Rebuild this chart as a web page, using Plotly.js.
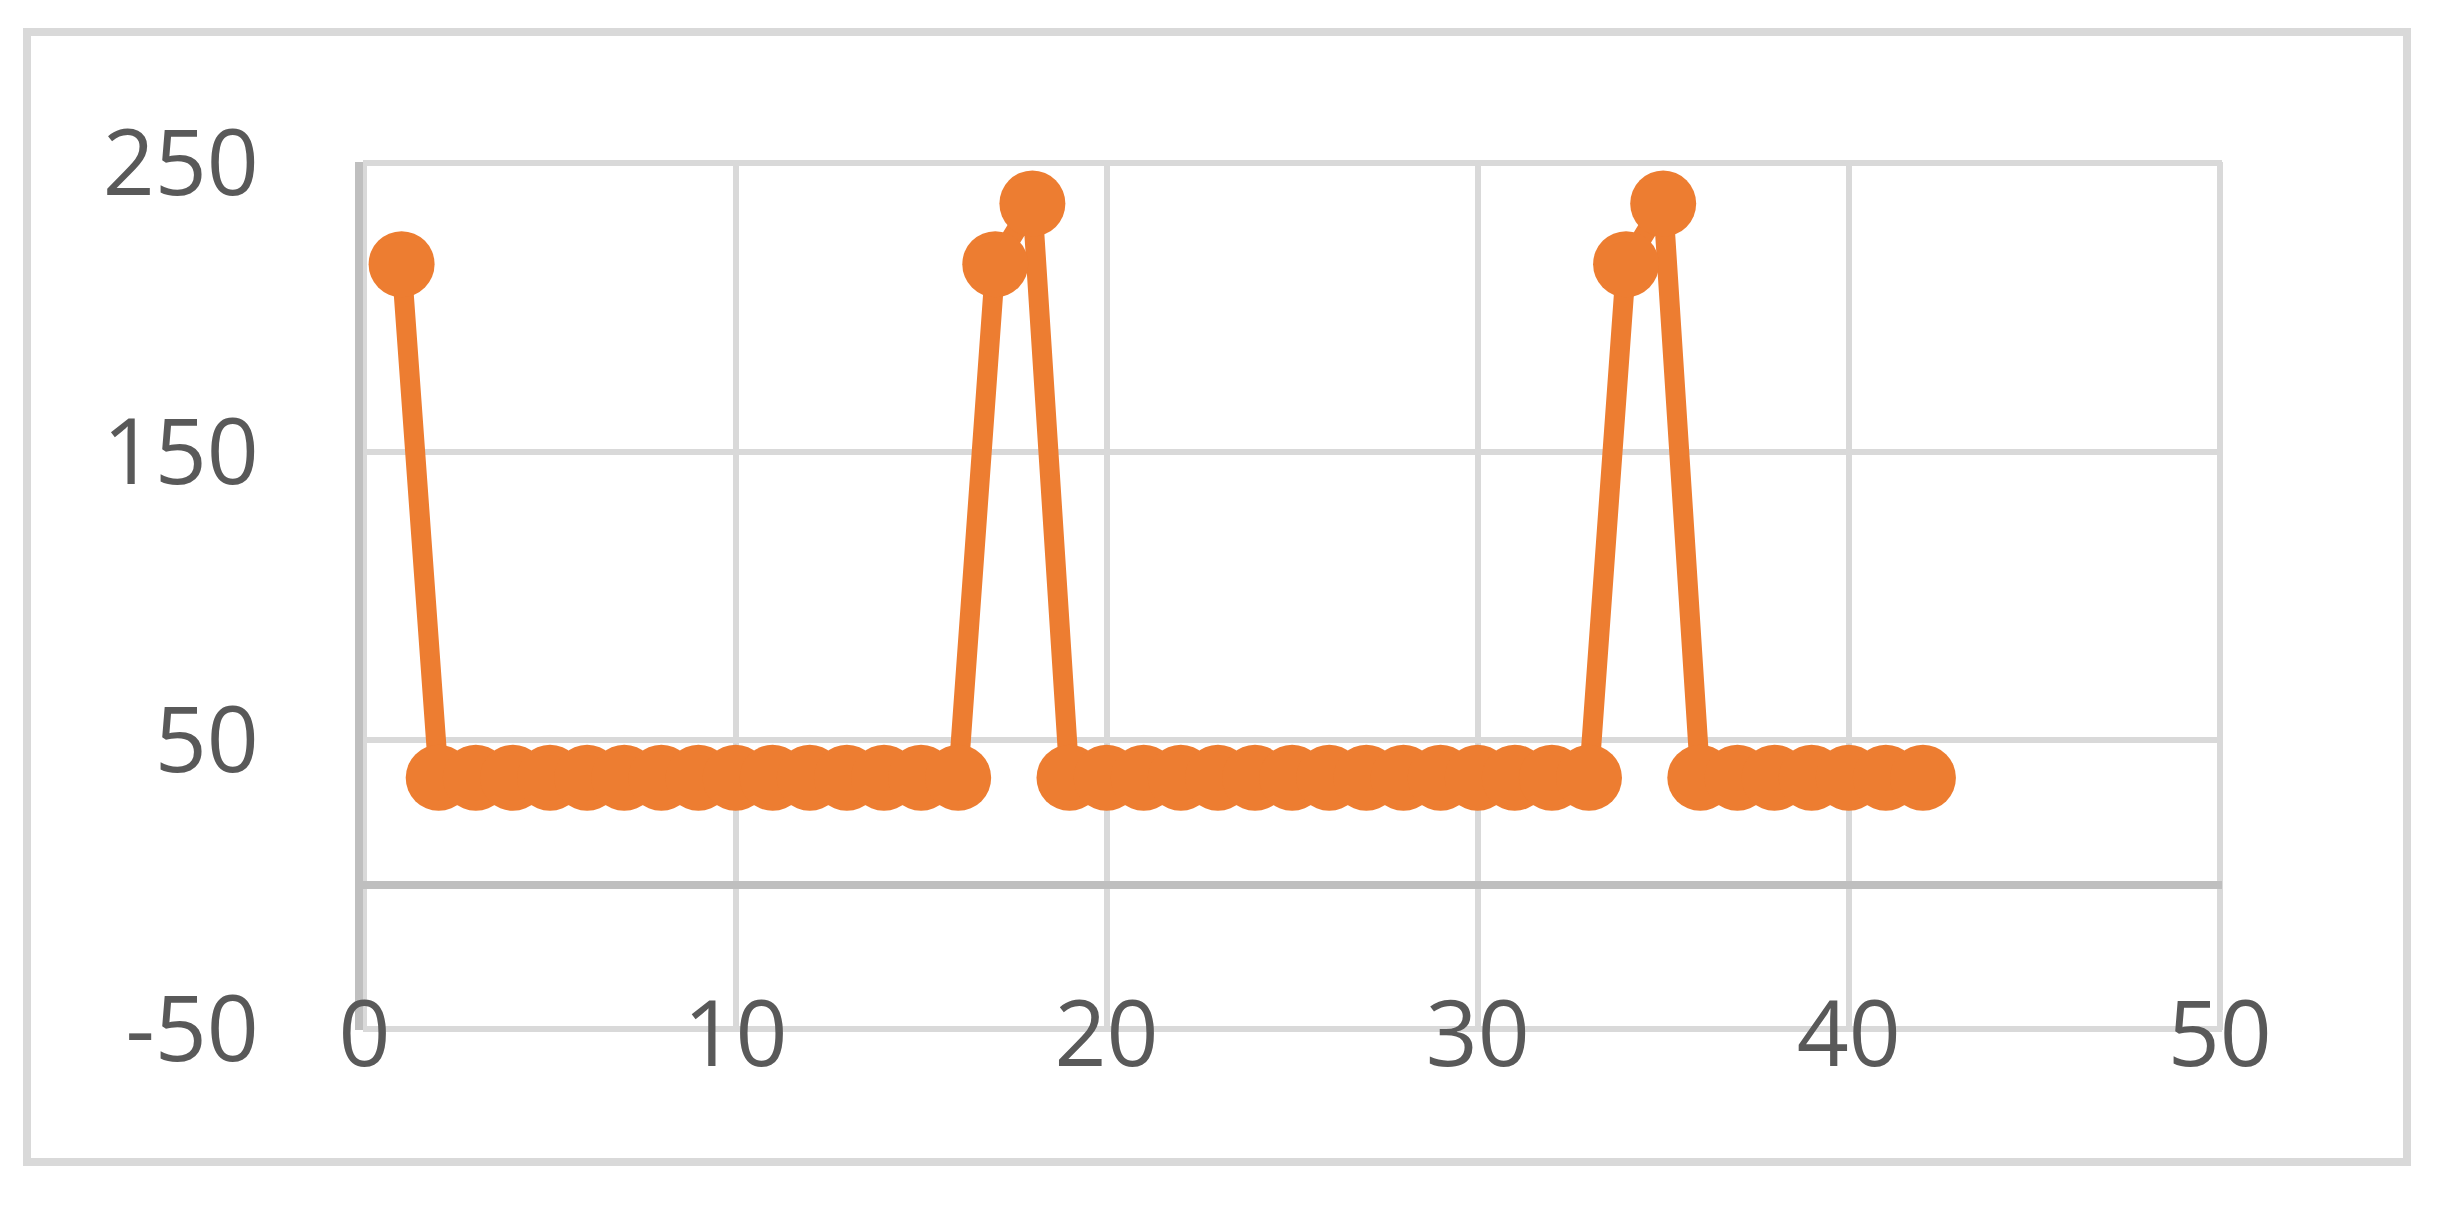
<!DOCTYPE html>
<html>
<head>
<meta charset="utf-8">
<script src="https://cdn.plot.ly/plotly-3.0.1.min.js"></script>
<style>
    body { margin: 0; background: #ffffff; }
    #plot {
        position: absolute;
        left: 23px;
        top: 28px;
        border: 8px solid #d9d9d9;
    }
</style>
</head>
<body>
<div id="plot"></div>
<script>
    // Sample number and measured value
    var sampleX = [];
    for (var i = 1; i <= 42; i++) sampleX.push(i);

    var sampleY = [
        215, 37, 37, 37, 37, 37, 37, 37, 37, 37, 37, 37, 37, 37, 37, 37,
        215, 236, 37, 37, 37, 37, 37, 37, 37, 37, 37, 37, 37, 37, 37, 37, 37,
        215, 236, 37, 37, 37, 37, 37, 37, 37
    ];

    var xTicks = [0, 10, 20, 30, 40, 50];
    var yTicks = [-50, 50, 150, 250];

    var orange = '#ed7d31';
    var textFont = { family: 'Open Sans, Liberation Sans, sans-serif', size: 91, color: '#595959' };

    var trace = {
        x: sampleX,
        y: sampleY,
        type: 'scatter',
        mode: 'lines+markers',
        line: { color: orange, width: 20 },
        marker: { color: orange, size: 66 },
        hoverinfo: 'none'
    };

    var layout = {
        width: 2372,
        height: 1122,
        margin: { l: 332, r: 181, t: 126, b: 128 },
        paper_bgcolor: '#ffffff',
        plot_bgcolor: '#ffffff',
        showlegend: false,
        font: textFont,
        xaxis: {
            // a hair wider than 0..50 so the edge gridlines are not clipped
            range: [-0.04, 50.06],
            tickmode: 'array',
            tickvals: xTicks,
            ticktext: xTicks.map(String),
            showgrid: true,
            gridcolor: '#d9d9d9',
            gridwidth: 6,
            zeroline: false,
            showline: false,
            ticks: '',
            ticklabelstandoff: -56,
            tickfont: textFont
        },
        yaxis: {
            range: [-50.4, 250.4],
            tickmode: 'array',
            tickvals: yTicks,
            ticktext: yTicks.map(String),
            showgrid: true,
            gridcolor: '#d9d9d9',
            gridwidth: 6,
            zeroline: true,
            zerolinecolor: '#bfbfbf',
            zerolinewidth: 8,
            showline: true,
            linecolor: '#bfbfbf',
            linewidth: 8,
            ticks: '',
            ticklabelstandoff: 78,
            tickfont: textFont
        }
    };

    Plotly.newPlot('plot', [trace], layout, { staticPlot: true });
</script>
</body>
</html>
